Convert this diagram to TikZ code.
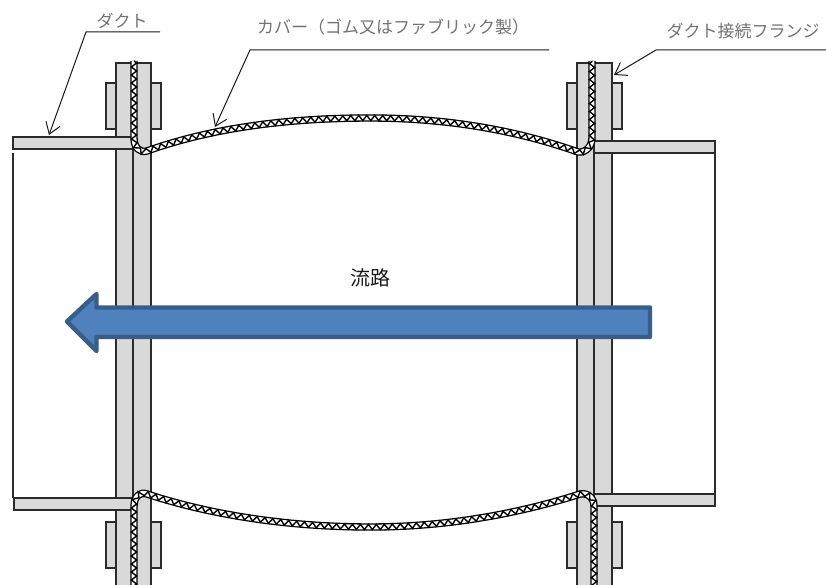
\documentclass[tikz,border=0pt]{standalone}
\usepackage{fontspec}
\newfontfamily\cjk{Noto Sans CJK JP}
\usetikzlibrary{arrows.meta,decorations.pathmorphing}
\definecolor{partfill}{HTML}{D9D9D9}
\definecolor{partline}{HTML}{2B2B2B}
\definecolor{flowfill}{HTML}{4F81BD}
\definecolor{flowline}{HTML}{385D8A}
\tikzset{
  part/.style={draw=partline,fill=partfill,line width=1.3pt},
  wall/.style={draw=partline,line width=1.3pt},
  leader/.style={draw=black!90,line width=1pt,line join=miter,-{Straight Barb[length=11pt,width=15pt,line width=1pt]}},
  callout/.style={font=\cjk\fontsize{17}{20}\selectfont,text=black!55,inner sep=0pt},
  flowlabel/.style={font=\cjk\fontsize{20}{23}\selectfont,text=black!90,inner sep=0pt},
  coverouter/.style={draw=black,line width=7.4pt,line cap=butt,line join=round},
  coverinner/.style={draw=white,line width=4.8pt,line join=round},
  coverzig/.style={draw=black,line width=1.4pt,decorate,decoration={zigzag,segment length=8pt,amplitude=2.6pt}},
}
\begin{document}
\begin{tikzpicture}[x=1pt,y=-1pt]
\useasboundingbox (0,0) rectangle (826,585);
\fill[white] (0,0) rectangle (826,585);
% duct walls
\draw[wall] (13,153) -- (13,498);
\draw[wall] (715,153) -- (715,494);
% backing plates
\foreach \px in {106,151,567,612}{
  \draw[part] (\px,83) rectangle (\px+10,129);
  \draw[part] (\px,522) rectangle (\px+10,568);
}
% flanges
\draw[part] (116,63) rectangle (133,590);
\draw[part] (133,63) rectangle (151,590);
\draw[part] (577,63) rectangle (594,590);
\draw[part] (594,63) rectangle (612,590);
% duct stubs
\draw[part] (13,137) rectangle (133,149);
\draw[part] (14,498) rectangle (133,510);
\draw[part] (594,141) rectangle (715,153);
\draw[part] (594,494) rectangle (715,506);
% covers
\foreach \st in {coverouter,coverinner,coverzig}{
  \path[\st] (134,61) -- (134,138) .. controls (134,148) and (140,153) .. (147,151)
     .. controls (220,125) and (300,118) .. (370,118)
     .. controls (440,118) and (510,128) .. (578,152)
     .. controls (586,153) and (592,146) .. (592,138) -- (592,61);
  \path[\st] (134,590) -- (134,506) .. controls (134,497) and (140,491) .. (147,494)
     .. controls (220,518) and (300,527) .. (370,527)
     .. controls (440,527) and (510,516) .. (577,495)
     .. controls (586,491) and (594,497) .. (594,506) -- (594,590);
}
% flow arrow
\node[flowlabel] (flowtext) at (370,278) {流路};
\draw[draw=flowline,fill=flowfill,line width=4.4pt,line join=round]
  (650,307.5) -- (96.5,307.5) -- (96.5,294) -- (67,321.5) -- (96.5,351) -- (96.5,337) -- (650,337) -- cycle;
% labels
\node[callout] (duct) at (122,21) {ダクト};
\node[callout] (cover) at (393,27) {カバー（ゴム又はファブリック製）};
\node[callout] (flange) at (743,31) {ダクト接続フランジ};
% leaders
\coordinate (ductA) at (160,32); \coordinate (ductB) at (86,32); \coordinate (ductC) at (49,135);
\coordinate (covA) at (549,50); \coordinate (covB) at (250,50); \coordinate (covC) at (215,127);
\coordinate (flA) at (826,50); \coordinate (flB) at (656,50); \coordinate (flC) at (614,75);
\draw[leader] (ductA) -- (ductB) -- (ductC);
\draw[leader] (covA) -- (covB) -- (covC);
\draw[leader] (flA) -- (flB) -- (flC);
\end{tikzpicture}
\end{document}
